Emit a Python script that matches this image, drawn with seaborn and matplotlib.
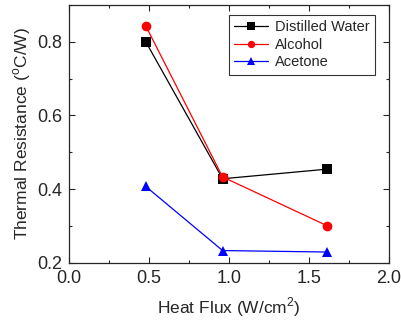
import matplotlib
matplotlib.use("Agg")
import matplotlib.pyplot as plt
import seaborn as sns
import pandas as pd
from matplotlib.ticker import MultipleLocator

# Werte
heat_flux = [0.48, 0.96, 1.61]
water = [0.800, 0.428, 0.454]
alcohol = [0.843, 0.433, 0.301]
acetone = [0.407, 0.233, 0.229]
series_names = ["Distilled Water", "Alcohol", "Acetone"]

df = pd.DataFrame({
    "flux": heat_flux * 3,
    "R": water + alcohol + acetone,
    "fluid": [n for n in series_names for _ in heat_flux],
})

sns.set_style("ticks")
plt.rcParams['font.family'] = ['Liberation Sans', 'DejaVu Sans']
plt.rcParams['mathtext.fontset'] = 'custom'
plt.rcParams['mathtext.rm'] = 'Liberation Sans'
plt.rcParams['xtick.direction'] = 'in'
plt.rcParams['ytick.direction'] = 'in'

fig = plt.figure(figsize=(4.01, 3.21), dpi=100)
ax = fig.add_axes([69 / 401, 1 - 262.7 / 321, 320 / 401, 257.7 / 321])

sns.lineplot(data=df, x="flux", y="R", hue="fluid", style="fluid",
             palette=["black", "red", "blue"], markers=["s", "o", "^"],
             dashes=False, markersize=7, markeredgewidth=0, linewidth=0.9,
             ax=ax)

ax.set_xlim(0, 2.0)
ax.set_ylim(0.2, 0.9)
ax.xaxis.set_major_locator(MultipleLocator(0.5))
ax.xaxis.set_minor_locator(MultipleLocator(0.25))
ax.yaxis.set_major_locator(MultipleLocator(0.2))
ax.yaxis.set_minor_locator(MultipleLocator(0.1))
ax.tick_params(which='both', top=True, right=True, labelsize=13, width=0.8)
ax.tick_params(which='major', length=4, pad=5)
ax.tick_params(which='minor', length=2.5)
for s in ax.spines.values():
    s.set_linewidth(0.9)

ax.set_xlabel("Heat Flux (W/cm$^\\mathrm{2}$)", fontsize=12.5, labelpad=6)
ax.set_ylabel("Thermal Resistance ($^\\mathrm{o}$C/W)", fontsize=12.5, labelpad=3)

leg = ax.legend(loc="upper right", bbox_to_anchor=(0.956, 0.961),
                fontsize=10.5, frameon=True, fancybox=False,
                edgecolor="black", borderaxespad=0, handlelength=2.3,
                labelspacing=0.25, borderpad=0.35, handletextpad=0.5,
                markerscale=0.75)
leg.get_frame().set_linewidth(0.8)
leg.set_title(None)

fig.savefig("out.png", dpi=100)
